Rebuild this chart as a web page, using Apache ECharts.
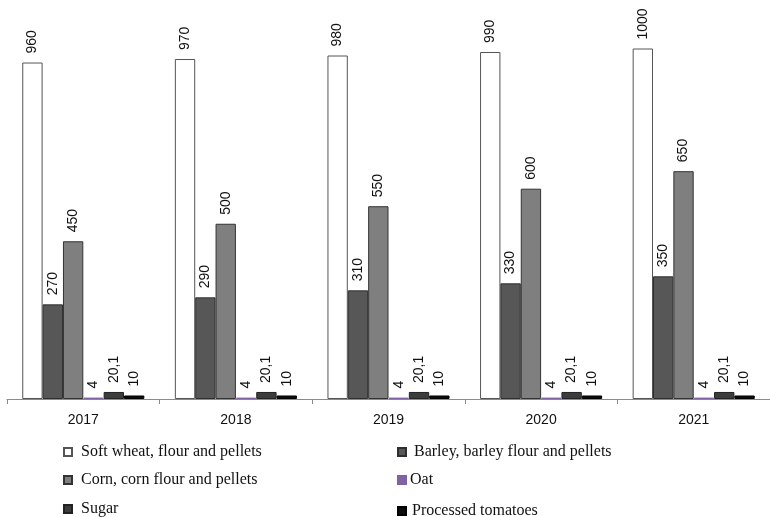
<!DOCTYPE html>
<html>
<head>
<meta charset="utf-8">
<script src="https://cdn.jsdelivr.net/npm/echarts@6/dist/echarts.min.js"></script>
<style>
  html, body { margin: 0; padding: 0; background: #fff; }
  #chart { width: 770px; height: 517px; }
</style>
</head>
<body>
<div id="chart"></div>
<script>
// Years on the category axis
const years = ['2017', '2018', '2019', '2020', '2021'];

// Product groups, one bar series each
const seriesNames = [
  'Soft wheat, flour and pellets',
  'Barley, barley flour and pellets',
  'Corn, corn flour and pellets',
  'Oat',
  'Sugar',
  'Processed tomatoes'
];

const softWheat = [960, 970, 980, 990, 1000];
const barley = [270, 290, 310, 330, 350];
const corn = [450, 500, 550, 600, 650];
const oat = [4, 4, 4, 4, 4];
const sugar = [20.1, 20.1, 20.1, 20.1, 20.1];
const tomatoes = [10, 10, 10, 10, 10];

const valuesBySeries = [softWheat, barley, corn, oat, sugar, tomatoes];
const fills = ['#ffffff', '#575757', '#7f7f7f', '#8064a2', '#3c3c3c', '#0d0d0d'];
const borders = ['#555555', '#2e2e2e', '#333333', '#8064a2', '#222222', '#000000'];

// Legend slots: [left, top] of each entry, two columns of three rows
const legendSlots = [
  [63, 444], [397, 444],
  [63, 472], [397, 472],
  [63, 501], [397, 503]
];
const legendTextGap = [9, 8, 9, 4, 9, 6];

const chart = echarts.init(document.getElementById('chart'));

const series = seriesNames.map((name, i) => ({
  name: name,
  type: 'bar',
  data: valuesBySeries[i],
  barGap: '0%',
  barCategoryGap: '20%',
  itemStyle: { color: fills[i], borderColor: borders[i], borderWidth: 1 },
  label: {
    show: true,
    position: 'top',
    rotate: 90,
    align: 'left',
    verticalAlign: 'middle',
    distance: 9,
    color: '#111',
    fontFamily: 'Liberation Sans, Arial, sans-serif',
    fontSize: 14,
    formatter: p => String(p.value).replace('.', ',')
  }
}));

const legends = seriesNames.map((name, i) => ({
  data: [name],
  left: legendSlots[i][0],
  top: legendSlots[i][1],
  orient: 'horizontal',
  padding: 0,
  itemWidth: 8,
  itemHeight: 8,
  itemGap: 0,
  icon: 'rect',
  selectedMode: false,
  textStyle: {
    fontFamily: 'Liberation Serif, Times New Roman, serif',
    fontSize: 16,
    color: '#111',
    padding: [0, 0, 0, legendTextGap[i] - 5]
  }
}));

chart.setOption({
  animation: false,
  backgroundColor: '#ffffff',
  legend: legends,
  grid: { left: 7, width: 769, top: 48.5, bottom: 118, containLabel: false },
  xAxis: {
    type: 'category',
    data: years,
    axisLine: { lineStyle: { color: '#8a8a8a', width: 1 } },
    axisTick: { show: true, length: 5, lineStyle: { color: '#8a8a8a' } },
    axisLabel: {
      color: '#111',
      fontFamily: 'Liberation Sans, Arial, sans-serif',
      fontSize: 14,
      margin: 14
    }
  },
  yAxis: {
    type: 'value',
    min: 0,
    max: 1000,
    show: false,
    splitLine: { show: false }
  },
  series: series
});
</script>
</body>
</html>
